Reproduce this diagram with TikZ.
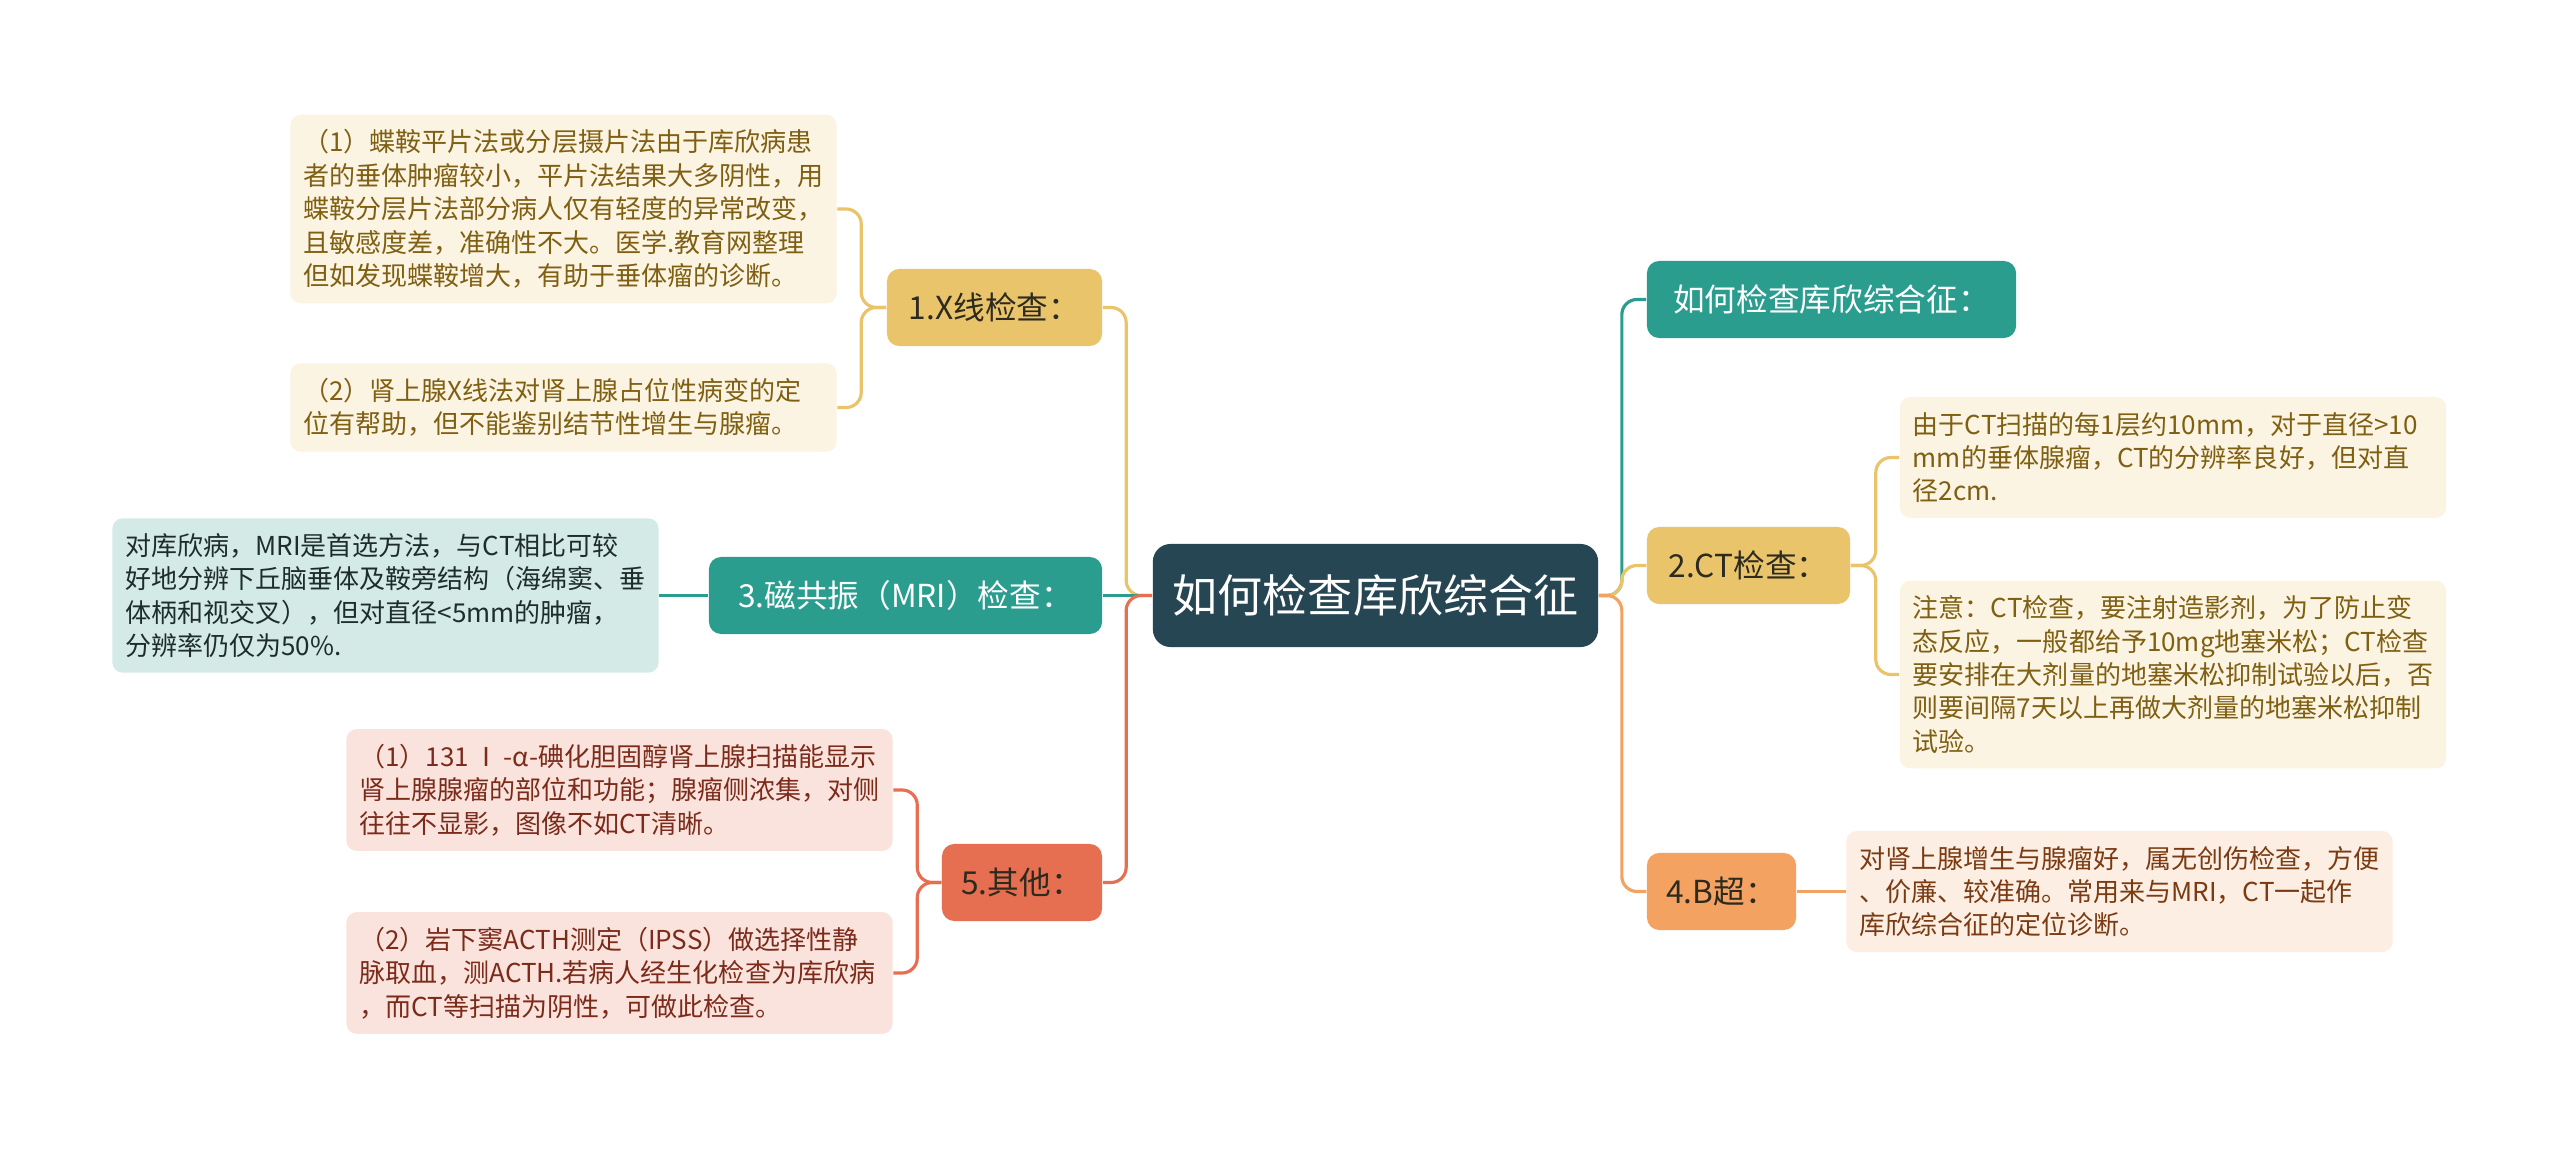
\documentclass[tikz,border=0pt]{standalone}
\usepackage{fontspec}
\setmainfont{Noto Sans CJK SC}
\usetikzlibrary{positioning}
\definecolor{rootblue}{HTML}{264653}
\definecolor{teal}{HTML}{2A9D8F}
\definecolor{gold}{HTML}{E9C46A}
\definecolor{orange}{HTML}{F4A261}
\definecolor{coral}{HTML}{E76F51}
\definecolor{goldsoft}{HTML}{FBF4E2}
\definecolor{tealsoft}{HTML}{D4EAE7}
\definecolor{orangesoft}{HTML}{FDEEE3}
\definecolor{coralsoft}{HTML}{FAE3DC}
\definecolor{goldtext}{HTML}{7F5F12}
\definecolor{tealtext}{HTML}{1E2D2B}
\definecolor{orangetext}{HTML}{7A3B12}
\definecolor{coraltext}{HTML}{7C2B1B}
\definecolor{darktext}{HTML}{2D2A1F}

\begin{document}
\begin{tikzpicture}[
  x=0.01cm, y=-0.01cm,
  rootbox/.style={rectangle, rounded corners=5pt, fill=rootblue, text=white,
                  minimum width=4.45cm, minimum height=1.03cm,
                  font=\fontsize{12.8}{15}\selectfont},
  branch/.style={rectangle, rounded corners=3.5pt, minimum height=0.77cm,
                 inner xsep=0.15cm, font=\fontsize{9}{11}\selectfont},
  tealbranch/.style={branch, fill=teal, text=white},
  goldbranch/.style={branch, fill=gold, text=darktext},
  orangebranch/.style={branch, fill=orange, text=darktext},
  coralbranch/.style={branch, fill=coral, text=darktext},
  leaf/.style={rectangle, rounded corners=3pt, text width=5.2cm, inner xsep=0.13cm,
               inner ysep=0.15cm, align=left, font=\fontsize{7.4}{9.5}\selectfont},
  goldleaf/.style={leaf, fill=goldsoft, text=goldtext},
  tealleaf/.style={leaf, fill=tealsoft, text=tealtext},
  orangeleaf/.style={leaf, fill=orangesoft, text=orangetext},
  coralleaf/.style={leaf, fill=coralsoft, text=coraltext},
  link/.style={line width=0.9pt, rounded corners=4.3pt}
]
  \useasboundingbox[fill=white] (0,0) rectangle (2560,1149);

  \node[rootbox] (root) at (1375.5,595.5) {如何检查库欣综合征};

  \node[goldbranch, minimum width=2.15cm] (xray) at (994.5,307.5) {1.X线检查：};
  \node[tealbranch, minimum width=3.93cm] (mri) at (905.5,595.5) {3.磁共振（MRI）检查：};
  \node[coralbranch, minimum width=1.60cm] (other) at (1022,882.5) {5.其他：};

  \node[tealbranch, minimum width=3.69cm] (title) at (1831.5,299.5) {如何检查库欣综合征：};
  \node[goldbranch, minimum width=2.03cm] (ct) at (1748.5,565.5) {2.CT检查：};
  \node[orangebranch, minimum width=1.49cm] (bscan) at (1721.5,891.5) {4.B超：};

  \node[goldleaf] (xleafa) at (563.5,209) {（1）蝶鞍平片法或分层摄片法由于库欣病患\\者的垂体肿瘤较小，平片法结果大多阴性，用\\蝶鞍分层片法部分病人仅有轻度的异常改变，\\且敏感度差，准确性不大。医学.教育网整理\\但如发现蝶鞍增大，有助于垂体瘤的诊断。};
  \node[goldleaf] (xleafb) at (563.5,407.5) {（2）肾上腺X线法对肾上腺占位性病变的定\\位有帮助，但不能鉴别结节性增生与腺瘤。};
  \node[tealleaf] (mrileaf) at (385.5,595.5) {对库欣病，MRI是首选方法，与CT相比可较\\好地分辨下丘脑垂体及鞍旁结构（海绵窦、垂\\体柄和视交叉），但对直径<5mm的肿瘤，\\分辨率仍仅为50\%.};
  \node[coralleaf] (oleafa) at (619.5,790) {\mbox{（1）131\,Ⅰ\,-α-碘化胆固醇肾上腺扫描能显示}\\肾上腺腺瘤的部位和功能；腺瘤侧浓集，对侧\\往往不显影，图像不如CT清晰。};
  \node[coralleaf] (oleafb) at (619.5,973) {（2）岩下窦ACTH测定（IPSS）做选择性静\\脉取血，测ACTH.若病人经生化检查为库欣病\\，而CT等扫描为阴性，可做此检查。};

  \node[goldleaf] (ctleafa) at (2173,457.5) {由于CT扫描的每1层约10mm，对于直径>10\\mm的垂体腺瘤，CT的分辨率良好，但对直\\径2cm.};
  \node[goldleaf] (ctleafb) at (2173,674.5) {注意：CT检查，要注射造影剂，为了防止变\\态反应，一般都给予10mg地塞米松；CT检查\\要安排在大剂量的地塞米松抑制试验以后，否\\则要间隔7天以上再做大剂量的地塞米松抑制\\试验。};
  \node[orangeleaf] (bleaf) at (2119.5,891.5) {对肾上腺增生与腺瘤好，属无创伤检查，方便\\、价廉、较准确。常用来与MRI，CT一起作\\库欣综合征的定位诊断。};

  \draw[link, gold] (root.west) -- ++(-26,0) |- (xray.east);
  \draw[link, teal] (root.west) -- (mri.east);
  \draw[link, coral] (root.west) -- ++(-26,0) |- (other.east);

  \draw[link, teal] (root.east) -- ++(23,0) |- (title.west);
  \draw[link, gold] (root.east) -- ++(23,0) |- (ct.west);
  \draw[link, orange] (root.east) -- ++(23,0) |- (bscan.west);

  \draw[link, gold] (xray.west) -- ++(-25,0) |- (xleafa.east);
  \draw[link, gold] (xray.west) -- ++(-25,0) |- (xleafb.east);
  \draw[link, teal] (mri.west) -- (mrileaf.east);
  \draw[link, coral] (other.west) -- ++(-24,0) |- (oleafa.east);
  \draw[link, coral] (other.west) -- ++(-24,0) |- (oleafb.east);

  \draw[link, gold] (ct.east) -- ++(25,0) |- (ctleafa.west);
  \draw[link, gold] (ct.east) -- ++(25,0) |- (ctleafb.west);
  \draw[link, orange] (bscan.east) -- (bleaf.west);
\end{tikzpicture}
\end{document}
